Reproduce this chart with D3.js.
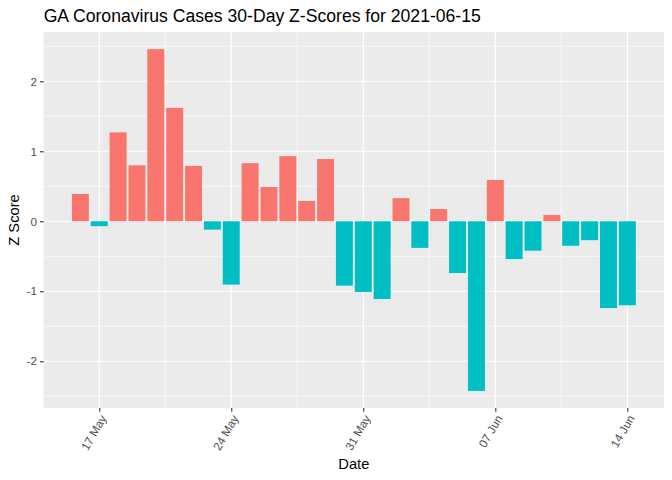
<!DOCTYPE html>
<html>
<head>
<meta charset="utf-8">
<script src="https://cdn.jsdelivr.net/npm/d3@7"></script>
<style>
body { margin: 0; background: #fff; }
text { font-family: "Liberation Sans", Arial, sans-serif; }
</style>
</head>
<body>
<svg id="chart" width="672" height="480"></svg>
<script>
const title = "GA Coronavirus Cases 30-Day Z-Scores for 2021-06-15";
const dates = ["2021-05-16","2021-05-17","2021-05-18","2021-05-19","2021-05-20","2021-05-21","2021-05-22","2021-05-23","2021-05-24","2021-05-25",
  "2021-05-26","2021-05-27","2021-05-28","2021-05-29","2021-05-30","2021-05-31","2021-06-01","2021-06-02","2021-06-03","2021-06-04",
  "2021-06-05","2021-06-06","2021-06-07","2021-06-08","2021-06-09","2021-06-10","2021-06-11","2021-06-12","2021-06-13","2021-06-14"];
const zScores = [0.39,-0.07,1.27,0.80,2.46,1.62,0.79,-0.12,-0.905,0.83,
  0.49,0.93,0.29,0.89,-0.92,-1.01,-1.11,0.33,-0.38,0.175,
  -0.74,-2.424,0.59,-0.54,-0.42,0.09,-0.35,-0.27,-1.24,-1.20];
const xTicks = ["2021-05-17","2021-05-24","2021-05-31","2021-06-07","2021-06-14"];
const yTicks = [-2,-1,0,1,2];
const yMinor = [-2.5,-1.5,-0.5,0.5,1.5,2.5];
const colors = { pos: "#F8766D", neg: "#00BFC4" };

const parse = d3.utcParse("%Y-%m-%d");
const DAY = 86400000;
const data = dates.map((d, i) => ({ date: parse(d), z: zScores[i] }));

const margin = { left: 43.7, right: 672 - 664, top: 32, bottom: 480 - 408 };
const W = 672, H = 480;
const svg = d3.select("#chart");

// x domain with ggplot-like expansion
const dMin = d3.min(data, d => d.date).getTime() - 0.45 * DAY;
const dMax = d3.max(data, d => d.date).getTime() + 0.45 * DAY;
const dExp = (dMax - dMin) * 0.05;
const x = d3.scaleUtc().domain([new Date(dMin - dExp), new Date(dMax + dExp)]).range([margin.left, W - margin.right]);

const zMin = Math.min(0, d3.min(zScores)), zMax = Math.max(0, d3.max(zScores));
const zExp = (zMax - zMin) * 0.05;
const y = d3.scaleLinear().domain([zMin - zExp, zMax + zExp]).range([H - margin.bottom, margin.top]);

// panel
svg.append("rect").attr("x", margin.left).attr("y", margin.top)
  .attr("width", W - margin.right - margin.left).attr("height", H - margin.bottom - margin.top)
  .attr("fill", "#EBEBEB");

const xMinor = xTicks.slice(0, -1).map(t => new Date(parse(t).getTime() + 3.5 * DAY));
xMinor.unshift(new Date(parse(xTicks[0]).getTime() - 3.5 * DAY));
xMinor.push(new Date(parse(xTicks[xTicks.length-1]).getTime() + 3.5 * DAY));
const grid = svg.append("g");
grid.selectAll(".ymin").data(yMinor).join("line")
  .attr("x1", margin.left).attr("x2", W - margin.right)
  .attr("y1", d => y(d)).attr("y2", d => y(d)).attr("stroke", "#fff").attr("stroke-width", 0.6);
grid.selectAll(".xmin").data(xMinor.filter(d => x(d) > margin.left && x(d) < W - margin.right)).join("line")
  .attr("y1", margin.top).attr("y2", H - margin.bottom)
  .attr("x1", d => x(d)).attr("x2", d => x(d)).attr("stroke", "#fff").attr("stroke-width", 0.6);
grid.selectAll(".ymaj").data(yTicks).join("line")
  .attr("x1", margin.left).attr("x2", W - margin.right)
  .attr("y1", d => y(d)).attr("y2", d => y(d)).attr("stroke", "#fff").attr("stroke-width", 1.1);
grid.selectAll(".xmaj").data(xTicks.map(parse)).join("line")
  .attr("y1", margin.top).attr("y2", H - margin.bottom)
  .attr("x1", d => x(d)).attr("x2", d => x(d)).attr("stroke", "#fff").attr("stroke-width", 1.1);

// bars
const bw = x(new Date(parse(dates[0]).getTime() + 0.9 * DAY)) - x(parse(dates[0]));
svg.append("g").selectAll("rect").data(data).join("rect")
  .attr("x", d => x(d.date) - bw / 2)
  .attr("width", bw)
  .attr("y", d => y(Math.max(0, d.z)))
  .attr("height", d => Math.abs(y(d.z) - y(0)))
  .attr("fill", d => d.z >= 0 ? colors.pos : colors.neg);

// axes
const yAxis = d3.axisLeft(y).tickValues(yTicks).tickSize(3.7).tickPadding(3).tickFormat(d3.format("d"));
const gy = svg.append("g").attr("transform", `translate(${margin.left},0)`).call(yAxis);
gy.select(".domain").remove();
gy.selectAll(".tick line").attr("stroke", "#333").attr("stroke-width", 1.1);
gy.selectAll(".tick text").attr("fill", "#4D4D4D").attr("font-size", "11.7px")
  .text(d => d < 0 ? "-" + Math.abs(d) : d);

const fmt = d3.utcFormat("%d %b");
const xAxis = d3.axisBottom(x).tickValues(xTicks.map(parse)).tickSize(3.7).tickFormat(fmt);
const gx = svg.append("g").attr("transform", `translate(0,${H - margin.bottom})`).call(xAxis);
gx.select(".domain").remove();
gx.selectAll(".tick line").attr("stroke", "#333").attr("stroke-width", 1.1);
gx.selectAll(".tick text").attr("fill", "#4D4D4D").attr("font-size", "11.7px")
  .attr("text-anchor", "end").attr("y", 0).attr("dy", "0.7em")
  .attr("transform", "translate(0,6) rotate(-60)");

// titles
svg.append("text").attr("x", margin.left).attr("y", 21.5).attr("font-size", "17.6px").attr("fill", "#000").text(title);
svg.append("text").attr("x", (margin.left + W - margin.right) / 2).attr("y", 469)
  .attr("text-anchor", "middle").attr("font-size", "14.7px").attr("fill", "#000").text("Date");
svg.append("text").attr("transform", `translate(19,${(margin.top + H - margin.bottom) / 2}) rotate(-90)`)
  .attr("text-anchor", "middle").attr("font-size", "14.7px").attr("fill", "#000").text("Z Score");
</script>
</body>
</html>
